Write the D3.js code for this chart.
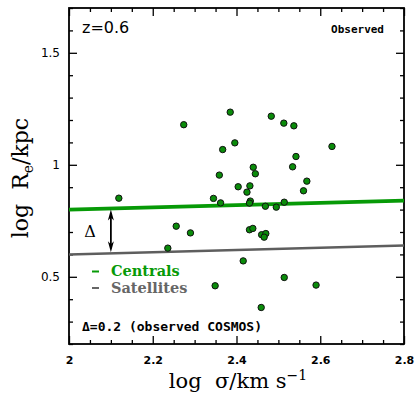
<!DOCTYPE html>
<html>
<head>
<meta charset="utf-8">
<script src="https://cdn.jsdelivr.net/npm/d3@7"></script>
<style>
  body { margin: 0; background: #fff; }
  svg { display: block; }
  text { white-space: pre; }
</style>
</head>
<body>
<div class="chart"></div>
<script>
var svgWidth = 416;
var svgHeight = 395;

var margin = { top: 8, right: 12, bottom: 51, left: 69 };
var width = svgWidth - margin.left - margin.right;
var height = svgHeight - margin.top - margin.bottom;

// galaxies (log sigma, log Re)
var logSigma = [2.274, 2.385, 2.483, 2.513, 2.537, 2.628, 2.396, 2.367, 2.542, 2.440,
  2.534, 2.359, 2.445, 2.568, 2.404, 2.432, 2.425, 2.560, 2.119, 2.345,
  2.362, 2.433, 2.431, 2.469, 2.495, 2.514, 2.256, 2.290, 2.431, 2.439,
  2.460, 2.470, 2.466, 2.236, 2.416, 2.514, 2.349, 2.590, 2.459];
var logRe = [1.179, 1.235, 1.217, 1.186, 1.174, 1.082, 1.098, 1.068, 1.037, 0.989,
  0.991, 0.954, 0.960, 0.927, 0.902, 0.906, 0.878, 0.884, 0.851, 0.850,
  0.830, 0.838, 0.829, 0.815, 0.811, 0.833, 0.726, 0.696, 0.710, 0.716,
  0.688, 0.693, 0.677, 0.628, 0.571, 0.497, 0.460, 0.463, 0.363];

// relations
var lineX = [2.0, 2.8];
var centralsY = [0.80, 0.84];
var satellitesY = [0.60, 0.64];
var deltaX = 2.1;

var xTicks = [2, 2.2, 2.4, 2.6, 2.8];
var yTicks = [0.5, 1, 1.5];

var green = "#079a07";
var grey = "#5e5e5e";

var svg = d3.select(".chart")
  .append("svg")
  .attr("width", svgWidth)
  .attr("height", svgHeight);

var chartGroup = svg.append("g")
  .attr("transform", `translate(${margin.left}, ${margin.top})`);

var x = d3.scaleLinear().domain([2, 2.8]).range([0, width]);
var y = d3.scaleLinear().domain([0.2, 1.7]).range([height, 0]);

// minor ticks
var xMinor = d3.range(2, 2.8001, 0.05).filter(v => !xTicks.some(t => Math.abs(t - v) < 1e-6));
var yMinor = d3.range(0.2, 1.7001, 0.1).filter(v => !yTicks.some(t => Math.abs(t - v) < 1e-6));

function addAxis(axis, transform, labels) {
  var g = chartGroup.append("g")
    .attr("transform", transform)
    .call(axis);
  g.select(".domain").remove();
  g.selectAll("line").attr("stroke", "#000").attr("stroke-width", 1.3);
  if (!labels) g.selectAll("text").remove();
  return g;
}

// bottom
var xb = addAxis(d3.axisBottom(x).tickValues(xTicks).tickSizeInner(-8).tickSizeOuter(0)
  .tickFormat(d3.format("")).tickPadding(12), `translate(0,${height})`, true);
xb.selectAll("text")
  .attr("font-family", "DejaVu Sans").attr("font-size", 11).attr("font-weight", "bold")
  .attr("fill", "#000");
addAxis(d3.axisBottom(x).tickValues(xMinor).tickSizeInner(-4).tickSizeOuter(0), `translate(0,${height})`, false);
// top
addAxis(d3.axisTop(x).tickValues(xTicks).tickSizeInner(-8).tickSizeOuter(0), "translate(0,0)", false);
addAxis(d3.axisTop(x).tickValues(xMinor).tickSizeInner(-4).tickSizeOuter(0), "translate(0,0)", false);
// left
var yl = addAxis(d3.axisLeft(y).tickValues(yTicks).tickSizeInner(-8).tickSizeOuter(0)
  .tickFormat(d3.format("")).tickPadding(9), "translate(0,0)", true);
yl.selectAll("text")
  .attr("font-family", "DejaVu Sans").attr("font-size", 12)
  .attr("fill", "#000");
addAxis(d3.axisLeft(y).tickValues(yMinor).tickSizeInner(-4).tickSizeOuter(0), "translate(0,0)", false);
// right
addAxis(d3.axisRight(y).tickValues(yTicks).tickSizeInner(-8).tickSizeOuter(0), `translate(${width},0)`, false);
addAxis(d3.axisRight(y).tickValues(yMinor).tickSizeInner(-4).tickSizeOuter(0), `translate(${width},0)`, false);

// frame
chartGroup.append("rect")
  .attr("width", width)
  .attr("height", height)
  .attr("fill", "none")
  .attr("stroke", "#000")
  .attr("stroke-width", 1.8);

// relations
var line = d3.line()
  .x(d => x(d[0]))
  .y(d => y(d[1]));

chartGroup.append("path")
  .datum(d3.zip(lineX, satellitesY))
  .attr("d", line)
  .attr("stroke", grey)
  .attr("stroke-width", 2.5)
  .attr("fill", "none");

chartGroup.append("path")
  .datum(d3.zip(lineX, centralsY))
  .attr("d", line)
  .attr("stroke", green)
  .attr("stroke-width", 3.8)
  .attr("fill", "none");

// galaxies
var pts = d3.zip(logSigma, logRe);
chartGroup.selectAll("circle")
  .data(pts)
  .enter()
  .append("circle")
  .attr("cx", d => x(d[0]))
  .attr("cy", d => y(d[1]))
  .attr("r", 3.2)
  .attr("fill", "#0a8c0a")
  .attr("stroke", "#111")
  .attr("stroke-width", 1);

// delta arrow
var interp = (ys, xv) => ys[0] + (ys[1] - ys[0]) * (xv - lineX[0]) / (lineX[1] - lineX[0]);
var yTop = y(interp(centralsY, deltaX)) + 1;
var yBot = y(interp(satellitesY, deltaX)) - 1;
var ax = x(deltaX);
chartGroup.append("line")
  .attr("x1", ax).attr("x2", ax)
  .attr("y1", yTop + 4).attr("y2", yBot - 4)
  .attr("stroke", "#000").attr("stroke-width", 1.8);
chartGroup.append("path")
  .attr("d", `M${ax},${yTop} L${ax - 3},${yTop + 11} L${ax},${yTop + 8} L${ax + 3},${yTop + 11} Z`)
  .attr("fill", "#000");
chartGroup.append("path")
  .attr("d", `M${ax},${yBot} L${ax - 3},${yBot - 11} L${ax},${yBot - 8} L${ax + 3},${yBot - 11} Z`)
  .attr("fill", "#000");
chartGroup.append("text")
  .attr("x", x(2.05)).attr("y", (yTop + yBot) / 2 + 6)
  .attr("text-anchor", "middle")
  .attr("font-family", "DejaVu Serif").attr("font-size", 16)
  .text("Δ");

// legend
var legend = [["Centrals", green], ["Satellites", "#666"]];
legend.forEach(function(l, i) {
  var ly = 276 + i * 16.5 - margin.top;
  chartGroup.append("line")
    .attr("x1", 23).attr("x2", 30)
    .attr("y1", ly - 4.5).attr("y2", ly - 4.5)
    .attr("stroke", l[1]).attr("stroke-width", 2);
  chartGroup.append("text")
    .attr("x", 42).attr("y", ly)
    .attr("font-family", "DejaVu Serif").attr("font-size", 14.5).attr("font-weight", "bold")
    .attr("fill", l[1])
    .text(l[0]);
});

// annotations
chartGroup.append("text")
  .attr("x", 13).attr("y", 25)
  .attr("font-family", "DejaVu Sans").attr("font-size", 16)
  .text("z=0.6");

chartGroup.append("text")
  .attr("x", width - 20).attr("y", 25)
  .attr("text-anchor", "end")
  .attr("font-family", "DejaVu Sans Mono").attr("font-size", 11).attr("font-weight", "bold")
  .text("Observed");

chartGroup.append("text")
  .attr("x", 13).attr("y", 323)
  .attr("font-family", "DejaVu Sans Mono").attr("font-size", 13).attr("font-weight", "bold")
  .text("Δ=0.2 (observed COSMOS)");

// axis titles
var xTitle = svg.append("text")
  .attr("x", 238)
  .attr("y", 388)
  .attr("text-anchor", "middle")
  .attr("font-family", "DejaVu Serif").attr("font-size", 21);
xTitle.append("tspan").text("log  σ/km s");
xTitle.append("tspan").attr("font-size", 14).attr("dy", -8).text("−1");

var yTitle = svg.append("text")
  .attr("transform", `translate(28, ${margin.top + height / 2 + 2}) rotate(-90)`)
  .attr("text-anchor", "middle")
  .attr("font-family", "DejaVu Serif").attr("font-size", 22);
yTitle.append("tspan").text("log  R");
yTitle.append("tspan").attr("font-size", 14).attr("dy", 5).text("e");
yTitle.append("tspan").attr("dy", -5).text("/kpc");
</script>
</body>
</html>
